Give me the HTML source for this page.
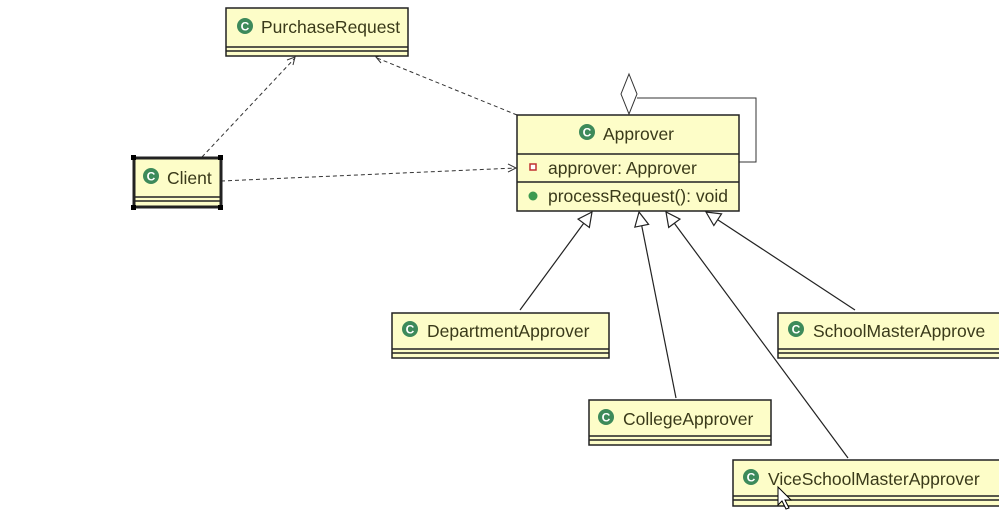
<!DOCTYPE html>
<html><head><meta charset="utf-8"><style>
html,body{margin:0;padding:0;background:#fff;}
svg{display:block;}
text{font-family:"Liberation Sans","DejaVu Sans",sans-serif;font-size:17.5px;fill:#3a3a1a;}
</style></head><body>
<svg id="s" width="999" height="512" viewBox="0 0 999 512" xmlns="http://www.w3.org/2000/svg">
<defs>
<g id="ci"><circle r="8" fill="#3d8a5a"/><text x="0" y="4.5" text-anchor="middle" style="font-size:12px;font-weight:bold;fill:#fff">C</text></g>
</defs>
<g stroke="#333" stroke-width="1" fill="none" stroke-dasharray="4,3">
<line x1="202" y1="157" x2="295" y2="58"/>
<line x1="517" y1="115" x2="377" y2="58"/>
<line x1="221" y1="181" x2="516" y2="168"/>
</g>
<g stroke="#333" stroke-width="1" fill="none">
<polyline points="287,60 295,57 293,65"/>
<polyline points="383,55 376,57 381,63"/>
<polyline points="508,164 516,168 508,172"/>
<polyline points="637,98 756,98 756,162 739,162"/>
<polygon points="629,74 637,94 629,114 621,94" fill="#fff"/>
</g>
<g id="inh" stroke="#222" stroke-width="1.2" fill="#fff"></g>
<g stroke="#222" stroke-width="1.5" fill="#fdfdc8">
<rect x="226" y="8" width="182" height="48"/>
<line x1="226" y1="47" x2="408" y2="47"/><line x1="226" y1="51" x2="408" y2="51"/>
<rect x="134" y="158" width="87" height="49" stroke-width="3"/>
<line x1="134" y1="197" x2="221" y2="197"/><line x1="134" y1="201" x2="221" y2="201"/>
<rect x="517" y="115" width="222" height="96"/>
<line x1="517" y1="154" x2="739" y2="154"/><line x1="517" y1="182" x2="739" y2="182"/>
<rect x="392" y="313" width="217" height="45"/>
<line x1="392" y1="349" x2="609" y2="349"/><line x1="392" y1="353" x2="609" y2="353"/>
<rect x="778" y="313" width="230" height="45"/>
<line x1="778" y1="349" x2="999" y2="349"/><line x1="778" y1="353" x2="999" y2="353"/>
<rect x="589" y="400" width="182" height="45"/>
<line x1="589" y1="436" x2="771" y2="436"/><line x1="589" y1="440" x2="771" y2="440"/>
<rect x="733" y="460" width="275" height="46"/>
<line x1="733" y1="496" x2="999" y2="496"/><line x1="733" y1="500" x2="999" y2="500"/>
</g>
<g fill="#000"><rect x="131" y="155" width="5" height="5"/><rect x="218" y="155" width="5" height="5"/><rect x="131" y="205" width="5" height="5"/><rect x="218" y="205" width="5" height="5"/></g>
<use href="#ci" x="245" y="26"/><text x="261" y="33">PurchaseRequest</text>
<use href="#ci" x="151" y="176"/><text x="167" y="184">Client</text>
<use href="#ci" x="587" y="132"/><text x="603" y="140">Approver</text>
<rect x="530" y="164" width="6" height="6" fill="#fff" stroke="#c03030" stroke-width="1.5"/>
<text x="548" y="174">approver: Approver</text>
<circle cx="533" cy="196" r="4.5" fill="#3d9a50"/>
<text x="548" y="202">processRequest(): void</text>
<use href="#ci" x="410" y="329"/><text x="427" y="337">DepartmentApprover</text>
<use href="#ci" x="796" y="329"/><text x="813" y="337">SchoolMasterApprove</text>
<use href="#ci" x="606" y="417"/><text x="623" y="425">CollegeApprover</text>
<use href="#ci" x="751" y="477"/><text x="768" y="485">ViceSchoolMasterApprover</text>
<path d="M778,487 l0,18 l4,-4 l4,8 l3,-1 l-4,-8 l6,0 z" fill="#fff" stroke="#000"/>
</svg>
<script>
var g=document.getElementById('inh'),ns='http://www.w3.org/2000/svg';
[[592,212,520,310],[639,212,676,398],[666,212,848,458],[706,212,855,310]].forEach(function(a){
var dx=a[2]-a[0],dy=a[3]-a[1],L=Math.hypot(dx,dy),ux=dx/L,uy=dy/L,h=14,w=7;
var bx=a[0]+ux*h,by=a[1]+uy*h;
var l=document.createElementNS(ns,'line');l.setAttribute('x1',bx);l.setAttribute('y1',by);l.setAttribute('x2',a[2]);l.setAttribute('y2',a[3]);g.appendChild(l);
var p=document.createElementNS(ns,'polygon');
p.setAttribute('points',a[0]+','+a[1]+' '+(bx-uy*w)+','+(by+ux*w)+' '+(bx+uy*w)+','+(by-ux*w));g.appendChild(p);
});
</script>
</body></html>
